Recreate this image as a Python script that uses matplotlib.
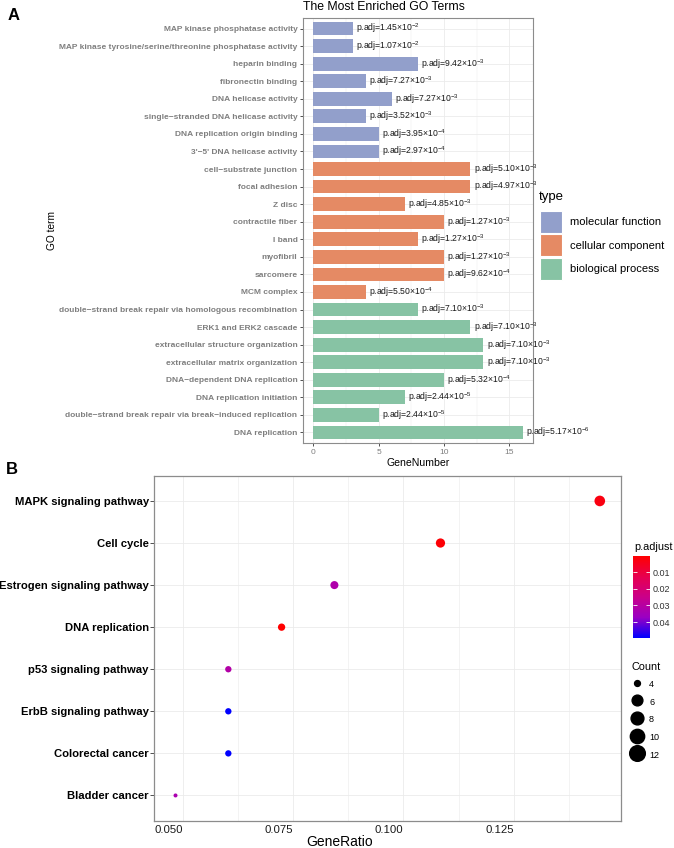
import numpy as np
import matplotlib.pyplot as plt
from matplotlib import font_manager
from matplotlib.colors import LinearSegmentedColormap, Normalize
from matplotlib.patches import Patch
from matplotlib.lines import Line2D

# fonts
names = {f.name for f in font_manager.fontManager.ttflist}
narrow = 'Liberation Sans Narrow' if 'Liberation Sans Narrow' in names else 'Liberation Sans'
plt.rcParams['font.family'] = ['Liberation Sans', 'DejaVu Sans']
plt.rcParams['mathtext.fontset'] = 'custom'
plt.rcParams['mathtext.rm'] = 'Liberation Sans'
plt.rcParams['mathtext.default'] = 'regular'

# ---- panel A data: GO terms (top to bottom)
go_terms = ['MAP kinase phosphatase activity',
            'MAP kinase tyrosine/serine/threonine phosphatase activity',
            'heparin binding', 'fibronectin binding', 'DNA helicase activity',
            'single\u2212stranded DNA helicase activity',
            'DNA replication origin binding', "3'\u22125' DNA helicase activity",
            'cell\u2212substrate junction', 'focal adhesion', 'Z disc',
            'contractile fiber', 'I band', 'myofibril', 'sarcomere', 'MCM complex',
            'double\u2212strand break repair via homologous recombination',
            'ERK1 and ERK2 cascade', 'extracellular structure organization',
            'extracellular matrix organization', 'DNA\u2212dependent DNA replication',
            'DNA replication initiation',
            'double\u2212strand break repair via break\u2212induced replication',
            'DNA replication']
go_counts = [3, 3, 8, 4, 6, 4, 5, 5,
             12, 12, 7, 10, 8, 10, 10, 4,
             8, 12, 13, 13, 10, 7, 5, 16]
go_types = ['molecular function'] * 8 + ['cellular component'] * 8 + ['biological process'] * 8
padj_mant = ['1.45', '1.07', '9.42', '7.27', '7.27', '3.52', '3.95', '2.97',
             '5.10', '4.97', '4.85', '1.27', '1.27', '1.27', '9.62', '5.50',
             '7.10', '7.10', '7.10', '7.10', '5.32', '2.44', '2.44', '5.17']
padj_exp = [2, 2, 3, 3, 3, 3, 4, 4,
            3, 3, 3, 3, 3, 3, 4, 4,
            3, 3, 3, 3, 4, 5, 5, 6]
type_order = ['molecular function', 'cellular component', 'biological process']
type_colors = {'molecular function': '#929FCB',
               'cellular component': '#E58A64',
               'biological process': '#87C3A4'}

# ---- panel B data: KEGG dot plot (top to bottom)
kegg_terms = ['MAPK signaling pathway', 'Cell cycle', 'Estrogen signaling pathway',
              'DNA replication', 'p53 signaling pathway', 'ErbB signaling pathway',
              'Colorectal cancer', 'Bladder cancer']
kegg_ratio = [0.1446, 0.1084, 0.0843, 0.0723, 0.0602, 0.0602, 0.0602, 0.0482]
kegg_count = [12, 9, 7, 6, 5, 5, 5, 4]
kegg_padj = [0.0030, 0.0012, 0.0320, 0.0004, 0.0310, 0.0495, 0.0495, 0.0330]
count_breaks = [4, 6, 8, 10, 12]
padj_ticks = [0.01, 0.02, 0.03, 0.04]

W, H = 674, 848
fig = plt.figure(figsize=(W / 100, H / 100), dpi=100)


def box(l, t, r, b):
    return [l / W, 1 - b / H, (r - l) / W, (b - t) / H]


def size_mm(c):
    c = np.asarray(c, dtype=float)
    return 3 + 5 * np.sqrt((c - min(kegg_count)) / (max(kegg_count) - min(kegg_count)))


grid_c = '#EBEBEB'
spine_c = '#8C8C8C'

# ================= panel A
axA = fig.add_axes(box(303, 18, 533, 443))
y = np.arange(len(go_terms))
axA.barh(y, go_counts, height=0.78, color=[type_colors[t] for t in go_types], zorder=2)
for yi, c, m, e in zip(y, go_counts, padj_mant, padj_exp):
    axA.text(c + 0.25, yi, f'p.adj={m}\u00d710$^{{-{e}}}$', ha='left', va='center',
             fontsize=6.2, color='#1a1a1a', zorder=3, clip_on=False)
axA.set_xlim(-0.8, 16.8)
axA.set_ylim(len(go_terms) - 0.4, -0.6)
axA.set_xticks([0, 5, 10, 15])
axA.set_xticks([2.5, 7.5, 12.5], minor=True)
axA.set_yticks(y)
axA.set_yticklabels(go_terms, fontsize=6.0, fontweight='bold', color='#7F7F7F')
axA.tick_params(axis='y', length=2.5, width=0.6, color='#333333', pad=1.5)
axA.tick_params(axis='x', length=2.5, width=0.6, color='#333333', labelsize=6,
                labelcolor='#7F7F7F', pad=1.5)
axA.tick_params(which='minor', length=0)
axA.grid(which='major', color=grid_c, lw=0.6)
axA.grid(which='minor', axis='x', color=grid_c, lw=0.35)
axA.set_axisbelow(True)
for s in axA.spines.values():
    s.set_color(spine_c)
    s.set_linewidth(0.8)

# legend for type (title drawn separately for spacing)
handles = [Patch(facecolor=type_colors[t], edgecolor='white', lw=0.8) for t in type_order]
axA.legend(handles, type_order, loc='upper left',
           bbox_to_anchor=(540 / W, 1 - 211 / H), bbox_transform=fig.transFigure,
           frameon=False, fontsize=8, handlelength=2.0,
           handleheight=2.67, labelspacing=0.12, handletextpad=0.7, borderpad=0,
           borderaxespad=0)
fig.text(539 / W, 1 - 197 / H, 'type', ha='left', va='center', fontsize=9.5)

fig.text(303 / W, 1 - 7 / H, 'The Most Enriched GO Terms', ha='left', va='center', fontsize=8.8)
fig.text(52 / W, 1 - 230 / H, 'GO term', rotation=90, ha='center', va='center', fontsize=7.3)
fig.text(418 / W, 1 - 463 / H, 'GeneNumber', ha='center', va='center', fontsize=7.6)
fig.text(14 / W, 1 - 15 / H, 'A', ha='center', va='center', fontsize=12, fontweight='bold')
fig.text(12 / W, 1 - 470 / H, 'B', ha='center', va='center', fontsize=12, fontweight='bold')

# ================= panel B
axB = fig.add_axes(box(154.3, 475.7, 621, 820.7))
cmap = LinearSegmentedColormap.from_list(
    'padj', ['#FF0000', '#E7004F', '#CA0089', '#9A00C3', '#0000FF'])
norm = Normalize(min(kegg_padj), max(kegg_padj))
yb = np.arange(len(kegg_terms))
sc = axB.scatter(kegg_ratio, yb, s=(1.33 * 0.72 * size_mm(kegg_count)) ** 2,
                 c=kegg_padj, cmap=cmap, norm=norm, linewidths=0, zorder=3)
lo, hi = min(kegg_ratio), max(kegg_ratio)
pad = 0.05 * (hi - lo)
axB.set_xlim(lo - pad, hi + pad)
axB.set_ylim(len(kegg_terms) - 0.4, -0.6)
axB.set_xticks([0.05, 0.075, 0.1, 0.125])
axB.set_xticklabels(['0.050', '0.075', '0.100', '0.125'], ha='right',
                    fontsize=8.2, family=narrow, color='#1a1a1a')
axB.set_xticks([0.0625, 0.0875, 0.1125, 0.1375], minor=True)
axB.set_yticks(yb)
axB.set_yticklabels(kegg_terms, fontsize=8.1, fontweight='bold', family=narrow, color='black')
axB.tick_params(axis='y', length=3, width=0.6, color='#333333', pad=1)
axB.tick_params(axis='x', length=0, pad=3)
axB.tick_params(which='minor', length=0)
axB.grid(which='major', color=grid_c, lw=0.6)
axB.grid(which='minor', axis='x', color=grid_c, lw=0.4)
axB.set_axisbelow(True)
for s in axB.spines.values():
    s.set_color(spine_c)
    s.set_linewidth(0.9)
fig.text(340 / W, 1 - 842 / H, 'GeneRatio', ha='center', va='center', fontsize=10, family=narrow)

# colorbar for p.adjust
cax = fig.add_axes(box(633, 556, 650, 638))
cb = fig.colorbar(sc, cax=cax)
cb.outline.set_visible(False)
cb.set_ticks(padj_ticks)
cax.invert_yaxis()
cax.tick_params(direction='in', length=3, width=0.6, color='white', labelsize=6.5,
                labelcolor='#333333', pad=2, left=True, right=True,
                labelleft=False, labelright=True)
fig.text(634 / W, 1 - 547 / H, 'p.adjust', ha='left', va='center', fontsize=7.8)

# size legend for Count
size_handles = [Line2D([], [], ls='', marker='o', color='black',
                       markersize=float(1.96 * 0.72 * size_mm(b))) for b in count_breaks]
axB.legend(size_handles, [str(b) for b in count_breaks], title='Count', loc='upper left',
           bbox_to_anchor=(631 / W, 1 - 662 / H), bbox_transform=fig.transFigure,
           frameon=False, fontsize=6.5, title_fontsize=7.8, labelspacing=0.68,
           handlelength=1.4, handleheight=1.6, handletextpad=0.6, borderpad=0,
           borderaxespad=0, alignment='left')

fig.savefig('out.png', dpi=100)
